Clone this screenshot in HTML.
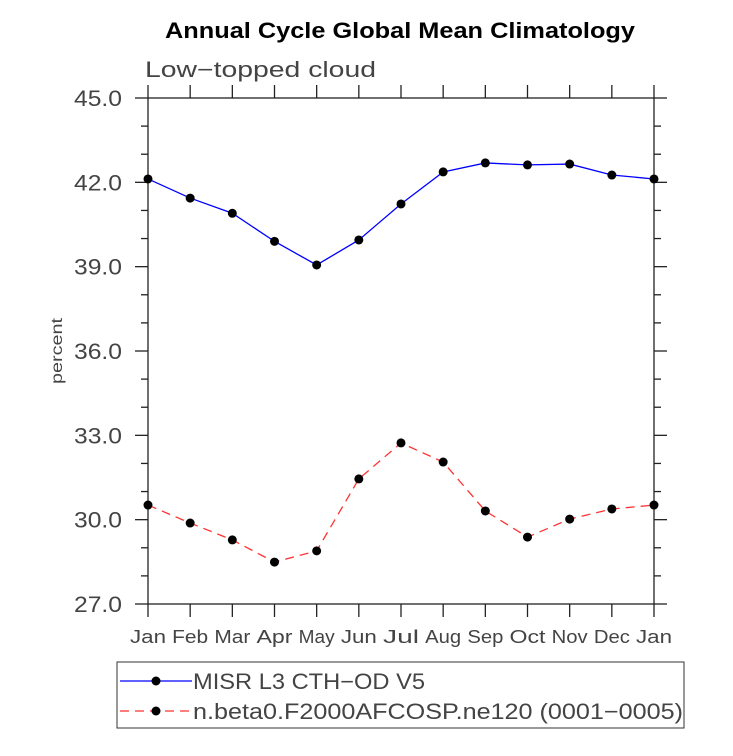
<!DOCTYPE html>
<html><head><meta charset="utf-8"><style>
body{margin:0;background:#fff;}
svg text{font-family:"Liberation Sans",sans-serif;}
</style></head><body>
<svg id="chart" width="733" height="751" viewBox="0 0 733 751" xmlns="http://www.w3.org/2000/svg">
<text x="165" y="38" font-size="22" font-weight="bold" fill="#000" textLength="470" lengthAdjust="spacingAndGlyphs">Annual Cycle Global Mean Climatology</text>
<text x="145" y="77" font-size="22" fill="#444" textLength="231" lengthAdjust="spacingAndGlyphs">Low−topped cloud</text>
<text transform="translate(62,351) rotate(-90)" text-anchor="middle" font-size="16" fill="#444" textLength="66" lengthAdjust="spacingAndGlyphs">percent</text>
<g id="axes"></g>
<g id="series"></g>
<rect x="117" y="662" width="567" height="66" fill="none" stroke="#333" stroke-width="1"/>
<g>
<line x1="120" y1="681" x2="192" y2="681" stroke="#00f" stroke-width="1.3"/>
<circle cx="156" cy="681" r="4.5" fill="#000"/>
<text x="193" y="689" font-size="22" fill="#444" textLength="232" lengthAdjust="spacingAndGlyphs">MISR L3 CTH−OD V5</text>
</g>
<g>
<line x1="120" y1="711" x2="192" y2="711" stroke="#f33" stroke-width="1.3" stroke-dasharray="9,6"/>
<circle cx="156" cy="711" r="4.5" fill="#000"/>
<text x="193" y="719" font-size="22" fill="#444" textLength="490" lengthAdjust="spacingAndGlyphs">n.beta0.F2000AFCOSP.ne120 (0001−0005)</text>
</g>
</svg>
<script>
const months=["Jan","Feb","Mar","Apr","May","Jun","Jul","Aug","Sep","Oct","Nov","Dec","Jan"];
const misr=[42.12,41.44,40.9,39.9,39.06,39.95,41.23,42.37,42.69,42.62,42.65,42.26,42.12];
const model=[30.52,29.88,29.28,28.49,28.89,31.45,32.73,32.05,30.31,29.38,30.02,30.38,30.52];
const yTicks=[27.0,30.0,33.0,36.0,39.0,42.0,45.0];
const X0=148,X1=654,Y0=604,Y1=98,YMIN=27,YMAX=45;
const NS="http://www.w3.org/2000/svg";
function xs(i){return X0+(X1-X0)*i/(months.length-1);}
function ys(v){return Y0-(v-YMIN)/(YMAX-YMIN)*(Y0-Y1);}
function mk(tag,attrs,parent){const e=document.createElementNS(NS,tag);for(const k in attrs)e.setAttribute(k,attrs[k]);parent.appendChild(e);return e;}
const axes=document.getElementById('axes');
const frame=mk('rect',{x:X0,y:Y1,width:X1-X0,height:Y0-Y1,fill:'none',stroke:'#222','stroke-width':1.3},axes);


months.forEach((m,i)=>{
  const x=xs(i);
  mk('line',{x1:x,y1:Y0,x2:x,y2:Y0+13,stroke:'#222','stroke-width':1.3},axes);
  mk('line',{x1:x,y1:Y1,x2:x,y2:Y1-13,stroke:'#222','stroke-width':1.3},axes);
  const t=mk('text',{x:x,y:Y0+39,'text-anchor':'middle','font-size':18,fill:'#444',textLength:m.length*12,lengthAdjust:'spacingAndGlyphs'},axes);
  t.textContent=m;
  
  
});
for(let v=YMIN;v<=YMAX+0.001;v+=1){
  const y=ys(v);const major=Math.abs((v-YMIN)%3)<0.01;
  const L=major?13:7;
  mk('line',{x1:X0-L,y1:y,x2:X0,y2:y,stroke:'#222','stroke-width':1.3},axes);
  mk('line',{x1:X1,y1:y,x2:X1+L,y2:y,stroke:'#222','stroke-width':1.3},axes);
}
yTicks.forEach(v=>{
  const t=mk('text',{x:122,y:ys(v)+8,'text-anchor':'end','font-size':22,fill:'#444',textLength:48,lengthAdjust:'spacingAndGlyphs'},axes);
  t.textContent=v.toFixed(1);
  
  
});
const ser=document.getElementById('series');
function draw(vals,color,dash,name){
  const g=mk('g',{},ser);
  
  
  const pts=vals.map((v,i)=>xs(i)+','+ys(v)).join(' ');
  const a={points:pts,fill:'none',stroke:color,'stroke-width':1.3};
  if(dash)a['stroke-dasharray']=dash;
  mk('polyline',a,g);
  vals.forEach((v,i)=>{
    const c=mk('circle',{cx:xs(i),cy:ys(v),r:4.5,fill:'#000'},g);
    
    
  });
}
draw(misr,'#00f',null,'series-misr');
draw(model,'#f33','9,6','series-model');
</script>
</body></html>
